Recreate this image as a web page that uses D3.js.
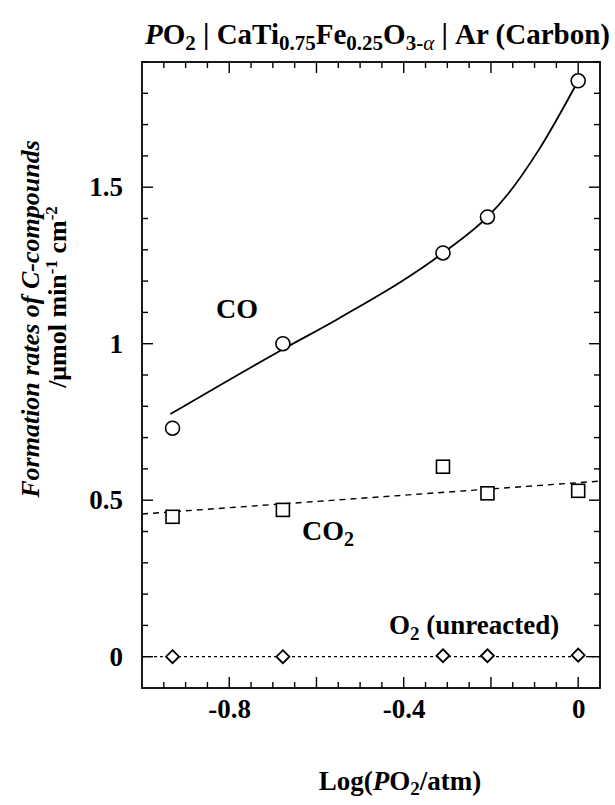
<!DOCTYPE html>
<html>
<head>
<meta charset="utf-8">
<script src="https://cdn.jsdelivr.net/npm/d3@7"></script>
<style>
  html, body { margin: 0; padding: 0; background: #fff; }
  svg { display: block; }
  text { font-family: "Liberation Serif", "Times New Roman", serif; font-weight: bold; fill: #000; }
</style>
</head>
<body>
<svg id="chart" width="615" height="805"></svg>
<script>
// Measured log(PO2/atm) values
const logPO2 = [-0.93, -0.677, -0.31, -0.208, 0.0];
// Formation rates, µmol min^-1 cm^-2
const coRates = [0.73, 1.0, 1.29, 1.405, 1.84];
const co2Rates = [0.447, 0.469, 0.607, 0.522, 0.53];
const o2Rates = [0.0, 0.0, 0.003, 0.003, 0.005];

// Fitted trend for CO (smooth curve through the data)
const coFitX = [-0.935, -0.68, -0.55, -0.31, -0.208, -0.16, -0.09, 0.0];
const coFitY = [0.775, 0.98, 1.08, 1.29, 1.405, 1.48, 1.62, 1.84];
// Linear trend for CO2 spanning the frame
const co2FitX = [-1.0, 0.05];
const co2FitY = [0.456, 0.561];
// Baseline for unreacted O2
const o2FitX = [-1.0, 0.05];
const o2FitY = [0.0, 0.0];

const xTickLabels = [-0.8, -0.4, 0];
const yTickLabels = [0, 0.5, 1, 1.5];

const svg = d3.select("#chart");
const m = { left: 142, right: 600, top: 62, bottom: 688 };

const x = d3.scaleLinear().domain([-1.0, 0.05]).range([m.left, m.right]);
const y = d3.scaleLinear().domain([-0.1, 1.9]).range([m.bottom, m.top]);

const fmt = d => (d === 0 ? "0" : String(d));

// Tick marks on all four sides, pointing inward
const xMinor = d3.range(-0.95, 0.0001, 0.05).map(v => +v.toFixed(2));
const xMajor = [-0.8, -0.6, -0.4, -0.2, 0];
const yMinor = d3.range(0, 1.9001, 0.1).map(v => +v.toFixed(2));
const yMajor = [0, 0.5, 1, 1.5];

function isMajor(list, v) { return list.some(t => Math.abs(t - v) < 1e-6); }

const tickLayer = svg.append("g").attr("stroke", "#000").attr("stroke-width", 1.4);
xMinor.forEach(v => {
  const len = isMajor(xMajor, v) ? 11 : 6;
  tickLayer.append("line").attr("x1", x(v)).attr("x2", x(v)).attr("y1", m.bottom).attr("y2", m.bottom - len);
  tickLayer.append("line").attr("x1", x(v)).attr("x2", x(v)).attr("y1", m.top).attr("y2", m.top + len);
});
yMinor.forEach(v => {
  const len = isMajor(yMajor, v) ? 11 : 6;
  tickLayer.append("line").attr("y1", y(v)).attr("y2", y(v)).attr("x1", m.left).attr("x2", m.left + len);
  tickLayer.append("line").attr("y1", y(v)).attr("y2", y(v)).attr("x1", m.right).attr("x2", m.right - len);
});

// Tick labels through d3 axes (tick lines hidden; frame drawn separately)
const xAxis = d3.axisBottom(x).tickValues(xTickLabels).tickFormat(fmt).tickSize(0).tickPadding(11);
svg.append("g").attr("transform", `translate(0,${m.bottom})`).call(xAxis)
  .call(g => g.select(".domain").remove())
  .selectAll("text").attr("font-size", 27).attr("font-family", "Liberation Serif").attr("font-weight", "bold").attr("fill", "#000");

const yAxis = d3.axisLeft(y).tickValues(yTickLabels).tickFormat(fmt).tickSize(0).tickPadding(19);
svg.append("g").attr("transform", `translate(${m.left},0)`).call(yAxis)
  .call(g => g.select(".domain").remove())
  .selectAll("text").attr("font-size", 27).attr("font-family", "Liberation Serif").attr("font-weight", "bold").attr("fill", "#000");

// Frame
svg.append("rect")
  .attr("x", m.left).attr("y", m.top)
  .attr("width", m.right - m.left).attr("height", m.bottom - m.top)
  .attr("fill", "none").attr("stroke", "#000").attr("stroke-width", 1.8);

const plot = svg.append("g");

// Trend lines
const line = d3.line().x(d => x(d[0])).y(d => y(d[1]));
plot.append("path")
  .datum(coFitX.map((v, i) => [v, coFitY[i]]))
  .attr("d", line.curve(d3.curveMonotoneX))
  .attr("fill", "none").attr("stroke", "#000").attr("stroke-width", 1.8);

plot.append("path")
  .datum(co2FitX.map((v, i) => [v, co2FitY[i]]))
  .attr("d", d3.line().x(d => x(d[0])).y(d => y(d[1])))
  .attr("fill", "none").attr("stroke", "#000").attr("stroke-width", 1.4)
  .attr("stroke-dasharray", "6,5");

plot.append("path")
  .datum(o2FitX.map((v, i) => [v, o2FitY[i]]))
  .attr("d", d3.line().x(d => x(d[0])).y(d => y(d[1])))
  .attr("fill", "none").attr("stroke", "#000").attr("stroke-width", 1.3)
  .attr("stroke-dasharray", "3,3");

// Markers: open circles (CO), open squares (CO2), open diamonds (O2)
plot.selectAll("circle.co").data(logPO2.map((v, i) => [v, coRates[i]])).enter()
  .append("circle").attr("class", "co")
  .attr("cx", d => x(d[0])).attr("cy", d => y(d[1])).attr("r", 7)
  .attr("fill", "#fff").attr("stroke", "#000").attr("stroke-width", 1.6);

plot.selectAll("rect.co2").data(logPO2.map((v, i) => [v, co2Rates[i]])).enter()
  .append("rect").attr("class", "co2")
  .attr("x", d => x(d[0]) - 6.5).attr("y", d => y(d[1]) - 6.5)
  .attr("width", 13).attr("height", 13)
  .attr("fill", "#fff").attr("stroke", "#000").attr("stroke-width", 1.6);

plot.selectAll("path.o2").data(logPO2.map((v, i) => [v, o2Rates[i]])).enter()
  .append("path").attr("class", "o2")
  .attr("d", d => {
    const cx = x(d[0]), cy = y(d[1]), r = 6.5;
    return `M${cx},${cy - r}L${cx + r},${cy}L${cx},${cy + r}L${cx - r},${cy}Z`;
  })
  .attr("fill", "#fff").attr("stroke", "#000").attr("stroke-width", 1.8);

// Series labels
plot.append("text").attr("x", 216).attr("y", 318).attr("font-size", 28).text("CO");

const co2Label = plot.append("text").attr("x", 302).attr("y", 540).attr("font-size", 28);
co2Label.append("tspan").text("CO");
co2Label.append("tspan").attr("font-size", 20).attr("dy", 6).text("2");

const o2Label = plot.append("text").attr("x", 389).attr("y", 634).attr("font-size", 27);
o2Label.append("tspan").text("O");
o2Label.append("tspan").attr("font-size", 19).attr("dy", 6).text("2");
o2Label.append("tspan").attr("dy", -6).text(" (unreacted)");

// Title
const title = svg.append("text").attr("x", 145).attr("y", 44).attr("font-size", 29);
title.append("tspan").attr("font-style", "italic").text("P");
title.append("tspan").text("O");
title.append("tspan").attr("font-size", 21).attr("dy", 6).text("2");
title.append("tspan").attr("dy", -6).text(" | CaTi");
title.append("tspan").attr("font-size", 21).attr("dy", 6).text("0.75");
title.append("tspan").attr("dy", -6).text("Fe");
title.append("tspan").attr("font-size", 21).attr("dy", 6).text("0.25");
title.append("tspan").attr("dy", -6).text("O");
title.append("tspan").attr("font-size", 21).attr("dy", 6).text("3-");
title.append("tspan").attr("font-size", 21).attr("font-style", "italic").attr("font-weight", "normal").text("α");
title.append("tspan").attr("dy", -6).text(" | Ar (Carbon)");

// Y axis title (two lines, rotated)
svg.append("text")
  .attr("transform", "translate(39,319) rotate(-90)")
  .attr("text-anchor", "middle").attr("font-size", 26).attr("font-style", "italic")
  .text("Formation rates of C-compounds");

const yt2 = svg.append("text")
  .attr("transform", "translate(66,297) rotate(-90)")
  .attr("text-anchor", "middle").attr("font-size", 26);
yt2.append("tspan").text("/μmol min");
yt2.append("tspan").attr("font-size", 17).attr("dy", -9).text("-1");
yt2.append("tspan").attr("dy", 9).text(" cm");
yt2.append("tspan").attr("font-size", 17).attr("dy", -9).text("-2");

// X axis title
const xt = svg.append("text").attr("x", 400).attr("y", 790).attr("text-anchor", "middle").attr("font-size", 27);
xt.append("tspan").text("Log(");
xt.append("tspan").attr("font-style", "italic").text("P");
xt.append("tspan").text("O");
xt.append("tspan").attr("font-size", 19).attr("dy", 5).text("2");
xt.append("tspan").attr("dy", -5).text("/atm)");
</script>
</body>
</html>
